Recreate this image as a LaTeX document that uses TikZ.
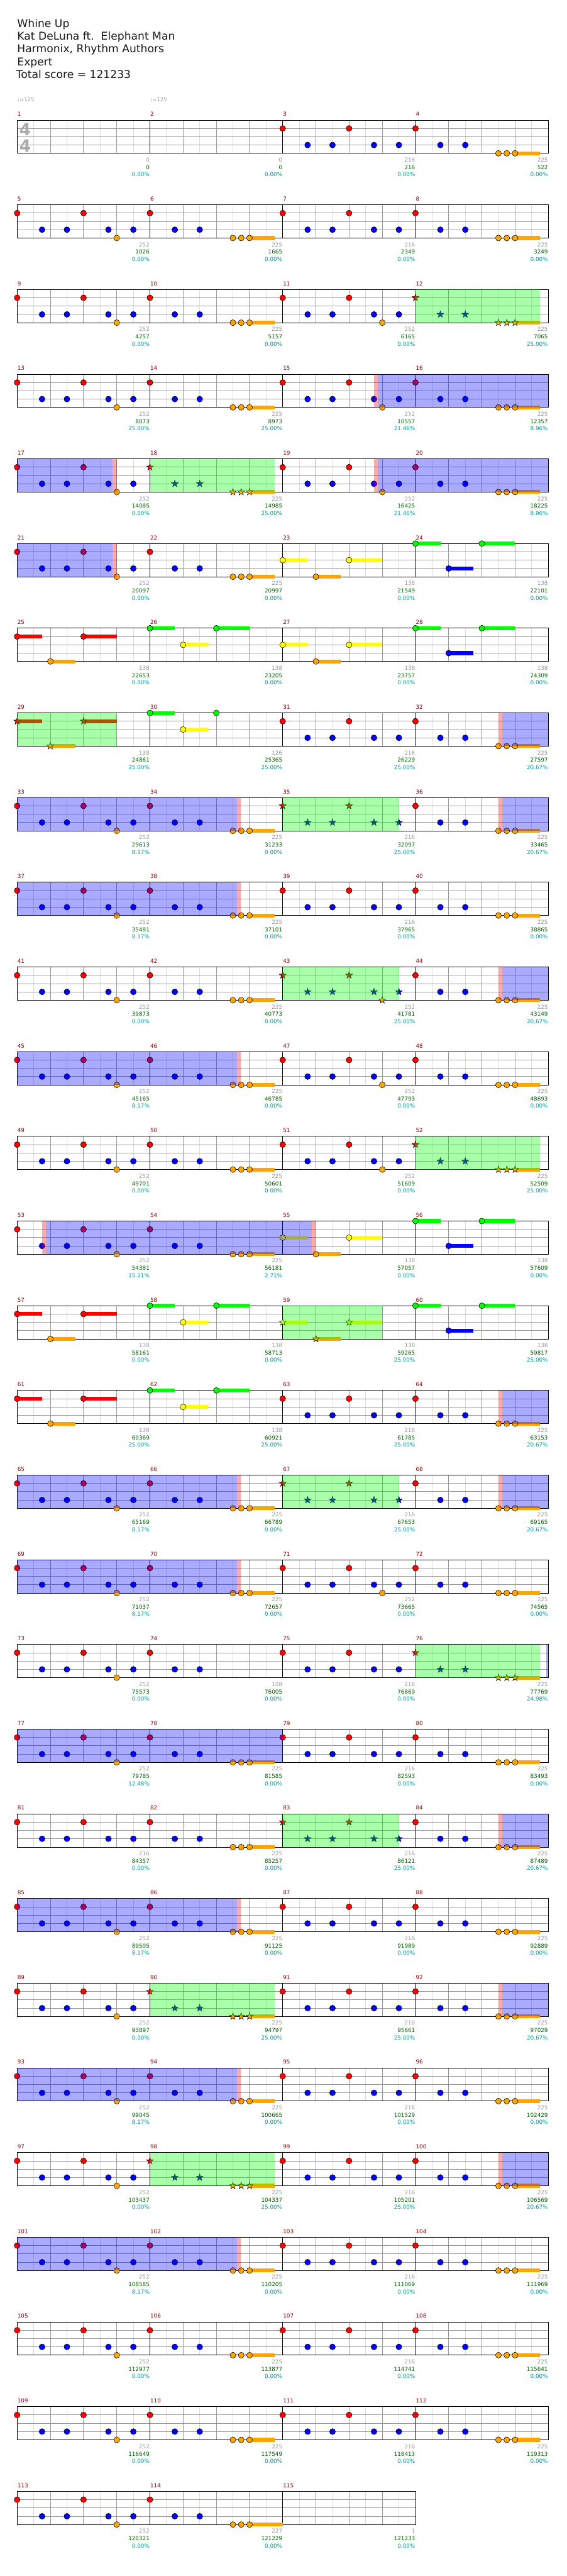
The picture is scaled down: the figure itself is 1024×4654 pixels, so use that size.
\documentclass[tikz,border=0pt]{standalone}
\usepackage{fontspec}
\setmainfont{DejaVu Sans}
\usepackage{xcolor}
\usepackage{tikz}

\pgfdeclarelayer{over}
\pgfsetlayers{main,over}

\definecolor{fretred}{RGB}{255,0,0}
\definecolor{fretgreen}{RGB}{0,255,0}
\definecolor{fretyellow}{RGB}{255,255,0}
\definecolor{fretblue}{RGB}{0,0,255}
\definecolor{fretorange}{RGB}{255,165,0}
\definecolor{barred}{RGB}{139,0,0}
\definecolor{ptgray}{RGB}{153,153,153}
\definecolor{ptgreen}{RGB}{0,100,0}
\definecolor{ptteal}{RGB}{0,153,153}
\definecolor{gridbeat}{RGB}{153,153,153}
\definecolor{grideighth}{RGB}{221,221,221}
\definecolor{sigGray}{RGB}{170,170,170}

\tikzset{
  eighthline/.style={draw=grideighth, line width=1pt},
  beatline/.style={draw=gridbeat, line width=1pt},
  barline/.style={draw=black, line width=1pt},
  notedot/.style={draw=black, line width=0.6pt},
  headline/.style={anchor=base west, inner sep=0pt, text=black!90, font=\fontsize{19.5}{23}\selectfont},
  tempomark/.style={anchor=base west, inner sep=0pt, text=ptgray, font=\fontsize{9.5}{11}\selectfont},
  timesig/.style={anchor=base west, inner sep=0pt, text=sigGray, font=\fontsize{30}{30}\selectfont\bfseries},
  barnum/.style={anchor=base west, inner sep=0pt, text=barred, font=\fontsize{10}{12}\selectfont},
  ptsgray/.style={anchor=base east, inner sep=0pt, text=ptgray, font=\fontsize{10}{12}\selectfont},
  ptsgreen/.style={anchor=base east, inner sep=0pt, text=ptgreen, font=\fontsize{10}{12}\selectfont},
  ptsteal/.style={anchor=base east, inner sep=0pt, text=ptteal, font=\fontsize{10}{12}\selectfont}
}

% lanes: 0 green, 1 red, 2 yellow, 3 blue, 4 orange; positions in 16ths
\newcommand{\chnote}[3]{\draw[notedot, fill=#1] ({15*(#3)},{15*(#2)}) circle (5.3pt);}
\newcommand{\chstar}[3]{\draw[notedot, fill=#1, shift={({15*(#3)},{15*(#2)})}]
  (90:6.5pt) -- (126:2.6pt) -- (162:6.5pt) -- (198:2.6pt) -- (234:6.5pt) -- (270:2.6pt)
  -- (306:6.5pt) -- (342:2.6pt) -- (18:6.5pt) -- (54:2.6pt) -- cycle;}
\newcommand{\chsus}[4]{\fill[#1] ({15*(#3)},{15*(#2)-3.5}) rectangle ({15*(#4)},{15*(#2)+3.5});}
\newcommand{\chshade}[3]{\begin{pgfonlayer}{over}\fill[#1, fill opacity=0.333] ({15*(#2)},0) rectangle ({15*(#3)},60);\end{pgfonlayer}}

% overdrive / star power shading
\newcommand{\odon}[1]{\chshade{fretred}{#1}{#1+0.47}\chshade{fretblue}{#1+0.47}{16}}
\newcommand{\odoff}[1]{\chshade{fretblue}{0}{#1}\chshade{fretred}{#1}{#1+0.5}}
\newcommand{\odfull}{\chshade{fretblue}{0}{16}}

% bar patterns
\newcommand{\patAn}{\chnote{fretred}{1}{0}\chnote{fretred}{1}{8}\chnote{fretblue}{3}{3}\chnote{fretblue}{3}{6}\chnote{fretblue}{3}{11}\chnote{fretblue}{3}{14}}
\newcommand{\patA}{\patAn\chnote{fretorange}{4}{12}}
\newcommand{\patB}{\chsus{fretorange}{4}{12}{15}\chnote{fretred}{1}{0}\chnote{fretblue}{3}{3}\chnote{fretblue}{3}{6}\chnote{fretorange}{4}{10}\chnote{fretorange}{4}{11}\chnote{fretorange}{4}{12}}
\newcommand{\patAns}{\chstar{fretred}{1}{0}\chstar{fretred}{1}{8}\chstar{fretblue}{3}{3}\chstar{fretblue}{3}{6}\chstar{fretblue}{3}{11}\chstar{fretblue}{3}{14}\chshade{fretgreen}{0}{14}}
\newcommand{\patAs}{\patAns\chstar{fretorange}{4}{12}}
\newcommand{\patBs}{\chsus{fretorange}{4}{12}{15}\chstar{fretred}{1}{0}\chstar{fretblue}{3}{3}\chstar{fretblue}{3}{6}\chstar{fretorange}{4}{10}\chstar{fretorange}{4}{11}\chstar{fretorange}{4}{12}\chshade{fretgreen}{0}{15}}
\newcommand{\patL}[4]{\chsus{#2}{#1}{0}{3}\chsus{#2}{#1}{8}{12}\chsus{#4}{#3}{4}{7}\chnote{#2}{#1}{0}\chnote{#2}{#1}{8}\chnote{#4}{#3}{4}}
\newcommand{\patLs}[4]{\chsus{#2}{#1}{0}{3}\chsus{#2}{#1}{8}{12}\chsus{#4}{#3}{4}{7}\chstar{#2}{#1}{0}\chstar{#2}{#1}{8}\chstar{#4}{#3}{4}\chshade{fretgreen}{0}{12}}

% staff of #1 bars
\newcommand{\chstaff}[1]{%
  \foreach \k in {1,...,#1} {
    \foreach \e in {30,90,150,210} \draw[eighthline] ({240*(\k-1)+\e},0) -- ++(0,60);
    \foreach \b in {60,120,180} \draw[beatline] ({240*(\k-1)+\b},0) -- ++(0,60);
  }
  \foreach \l in {15,30,45} \draw[beatline] (0,\l) -- ({240*#1},\l);
  \foreach \k in {1,...,#1} \draw[barline] ({240*\k},0) -- ++(0,60);
  \draw[barline] (0,0) rectangle ({240*#1},60);
}

% one bar: column, number, bar points, total, percent, notes
\newcommand{\chbar}[6]{%
  \begin{scope}[shift={({240*#1},0)}]
    #6
    \node[barnum] (bar#2) at (0.5,-7) {#2};
    \node[ptsgray] (gain#2) at (239.5,75.5) {#3};
    \node[ptsgreen] (sum#2) at (239.5,89) {#4};
    \node[ptsteal] (pct#2) at (239.5,102) {#5\%};
  \end{scope}}

\begin{document}
\begin{tikzpicture}[x=1pt, y=-1pt]
  \useasboundingbox (0,0) rectangle (1024,4654);
  \fill[white] (0,0) rectangle (1024,4654);

  % ---------------- HEADER ----------------
  \node[headline] (song) at (31,49.3) {Whine Up};
  \node[headline] (artist) at (31,72.3) {Kat DeLuna ft.\ \ Elephant Man};
  \node[headline] (authors) at (31,95.3) {Harmonix, Rhythm Authors};
  \node[headline] (level) at (31,118.3) {Expert};
  \node[headline] (score) at (29,141.3) {Total score = 121233};
  \node[tempomark] (tempo1) at (31,184) {♩=125};
  \node[tempomark] (tempo2) at (271,184) {♩=125};

  % ---------------- BARS 1-4 ----------------
  \begin{scope}[shift={(31,217)}]
    \chstaff{4}
    \node[timesig] (sigtop) at (4,28) {4};
    \node[timesig] (sigbot) at (4,57) {4};
    \chbar{0}{1}{0}{0}{0.00}{}
    \chbar{1}{2}{0}{0}{0.00}{}
    \chbar{2}{3}{216}{216}{0.00}{\patAn}
    \chbar{3}{4}{225}{522}{0.00}{\patB}
  \end{scope}
  % ---------------- BARS 5-8 ----------------
  \begin{scope}[shift={(31,370)}]
    \chstaff{4}
    \chbar{0}{5}{252}{1026}{0.00}{\patA}
    \chbar{1}{6}{225}{1665}{0.00}{\patB}
    \chbar{2}{7}{216}{2349}{0.00}{\patAn}
    \chbar{3}{8}{225}{3249}{0.00}{\patB}
  \end{scope}
  % ---------------- BARS 9-12 ----------------
  \begin{scope}[shift={(31,523)}]
    \chstaff{4}
    \chbar{0}{9}{252}{4257}{0.00}{\patA}
    \chbar{1}{10}{225}{5157}{0.00}{\patB}
    \chbar{2}{11}{252}{6165}{0.00}{\patA}
    \chbar{3}{12}{225}{7065}{25.00}{\patBs}
  \end{scope}
  % ---------------- BARS 13-16 ----------------
  \begin{scope}[shift={(31,676)}]
    \chstaff{4}
    \chbar{0}{13}{252}{8073}{25.00}{\patA}
    \chbar{1}{14}{225}{8973}{25.00}{\patB}
    \chbar{2}{15}{252}{10557}{21.46}{\patA\odon{11}}
    \chbar{3}{16}{225}{12357}{8.96}{\patB\odfull}
  \end{scope}
  % ---------------- BARS 17-20 ----------------
  \begin{scope}[shift={(31,829)}]
    \chstaff{4}
    \chbar{0}{17}{252}{14085}{0.00}{\patA\odoff{11.5}}
    \chbar{1}{18}{225}{14985}{25.00}{\patBs}
    \chbar{2}{19}{252}{16425}{21.46}{\patA\odon{11}}
    \chbar{3}{20}{225}{18225}{8.96}{\patB\odfull}
  \end{scope}
  % ---------------- BARS 21-24 ----------------
  \begin{scope}[shift={(31,982)}]
    \chstaff{4}
    \chbar{0}{21}{252}{20097}{0.00}{\patA\odoff{11.5}}
    \chbar{1}{22}{225}{20997}{0.00}{\patB}
    \chbar{2}{23}{138}{21549}{0.00}{\patL{2}{fretyellow}{4}{fretorange}}
    \chbar{3}{24}{138}{22101}{0.00}{\patL{0}{fretgreen}{3}{fretblue}}
  \end{scope}
  % ---------------- BARS 25-28 ----------------
  \begin{scope}[shift={(31,1135)}]
    \chstaff{4}
    \chbar{0}{25}{138}{22653}{0.00}{\patL{1}{fretred}{4}{fretorange}}
    \chbar{1}{26}{138}{23205}{0.00}{\patL{0}{fretgreen}{2}{fretyellow}}
    \chbar{2}{27}{138}{23757}{0.00}{\patL{2}{fretyellow}{4}{fretorange}}
    \chbar{3}{28}{138}{24309}{0.00}{\patL{0}{fretgreen}{3}{fretblue}}
  \end{scope}
  % ---------------- BARS 29-32 ----------------
  \begin{scope}[shift={(31,1288)}]
    \chstaff{4}
    \chbar{0}{29}{138}{24861}{25.00}{\patLs{1}{fretred}{4}{fretorange}}
    \chbar{1}{30}{126}{25365}{25.00}{\chsus{fretgreen}{0}{0}{3}\chsus{fretyellow}{2}{4}{7}%
      \chnote{fretgreen}{0}{0}\chnote{fretgreen}{0}{8}\chnote{fretyellow}{2}{4}}
    \chbar{2}{31}{216}{26229}{25.00}{\patAn}
    \chbar{3}{32}{225}{27597}{20.67}{\patB\odon{10}}
  \end{scope}
  % ---------------- BARS 33-36 ----------------
  \begin{scope}[shift={(31,1441)}]
    \chstaff{4}
    \chbar{0}{33}{252}{29613}{8.17}{\patA\odfull}
    \chbar{1}{34}{225}{31233}{0.00}{\patB\odoff{10.47}}
    \chbar{2}{35}{216}{32097}{25.00}{\patAns}
    \chbar{3}{36}{225}{33465}{20.67}{\patB\odon{10}}
  \end{scope}
  % ---------------- BARS 37-40 ----------------
  \begin{scope}[shift={(31,1594)}]
    \chstaff{4}
    \chbar{0}{37}{252}{35481}{8.17}{\patA\odfull}
    \chbar{1}{38}{225}{37101}{0.00}{\patB\odoff{10.47}}
    \chbar{2}{39}{216}{37965}{0.00}{\patAn}
    \chbar{3}{40}{225}{38865}{0.00}{\patB}
  \end{scope}
  % ---------------- BARS 41-44 ----------------
  \begin{scope}[shift={(31,1747)}]
    \chstaff{4}
    \chbar{0}{41}{252}{39873}{0.00}{\patA}
    \chbar{1}{42}{225}{40773}{0.00}{\patB}
    \chbar{2}{43}{252}{41781}{25.00}{\patAs}
    \chbar{3}{44}{225}{43149}{20.67}{\patB\odon{10}}
  \end{scope}
  % ---------------- BARS 45-48 ----------------
  \begin{scope}[shift={(31,1900)}]
    \chstaff{4}
    \chbar{0}{45}{252}{45165}{8.17}{\patA\odfull}
    \chbar{1}{46}{225}{46785}{0.00}{\patB\odoff{10.47}}
    \chbar{2}{47}{252}{47793}{0.00}{\patA}
    \chbar{3}{48}{225}{48693}{0.00}{\patB}
  \end{scope}
  % ---------------- BARS 49-52 ----------------
  \begin{scope}[shift={(31,2053)}]
    \chstaff{4}
    \chbar{0}{49}{252}{49701}{0.00}{\patA}
    \chbar{1}{50}{225}{50601}{0.00}{\patB}
    \chbar{2}{51}{252}{51609}{0.00}{\patA}
    \chbar{3}{52}{225}{52509}{25.00}{\patBs}
  \end{scope}
  % ---------------- BARS 53-56 ----------------
  \begin{scope}[shift={(31,2206)}]
    \chstaff{4}
    \chbar{0}{53}{252}{54381}{15.21}{\patA\odon{3}}
    \chbar{1}{54}{225}{56181}{2.71}{\patB\odfull}
    \chbar{2}{55}{138}{57057}{0.00}{\patL{2}{fretyellow}{4}{fretorange}\odoff{3.47}}
    \chbar{3}{56}{138}{57609}{0.00}{\patL{0}{fretgreen}{3}{fretblue}}
  \end{scope}
  % ---------------- BARS 57-60 ----------------
  \begin{scope}[shift={(31,2359)}]
    \chstaff{4}
    \chbar{0}{57}{138}{58161}{0.00}{\patL{1}{fretred}{4}{fretorange}}
    \chbar{1}{58}{138}{58713}{0.00}{\patL{0}{fretgreen}{2}{fretyellow}}
    \chbar{2}{59}{138}{59265}{25.00}{\patLs{2}{fretyellow}{4}{fretorange}}
    \chbar{3}{60}{138}{59817}{25.00}{\patL{0}{fretgreen}{3}{fretblue}}
  \end{scope}
  % ---------------- BARS 61-64 ----------------
  \begin{scope}[shift={(31,2512)}]
    \chstaff{4}
    \chbar{0}{61}{138}{60369}{25.00}{\patL{1}{fretred}{4}{fretorange}}
    \chbar{1}{62}{138}{60921}{25.00}{\patL{0}{fretgreen}{2}{fretyellow}}
    \chbar{2}{63}{216}{61785}{25.00}{\patAn}
    \chbar{3}{64}{225}{63153}{20.67}{\patB\odon{10}}
  \end{scope}
  % ---------------- BARS 65-68 ----------------
  \begin{scope}[shift={(31,2665)}]
    \chstaff{4}
    \chbar{0}{65}{252}{65169}{8.17}{\patA\odfull}
    \chbar{1}{66}{225}{66789}{0.00}{\patB\odoff{10.47}}
    \chbar{2}{67}{216}{67653}{25.00}{\patAns}
    \chbar{3}{68}{225}{69165}{20.67}{\patB\odon{10}}
  \end{scope}
  % ---------------- BARS 69-72 ----------------
  \begin{scope}[shift={(31,2818)}]
    \chstaff{4}
    \chbar{0}{69}{252}{71037}{8.17}{\patA\odfull}
    \chbar{1}{70}{225}{72657}{0.00}{\patB\odoff{10.47}}
    \chbar{2}{71}{252}{73665}{0.00}{\patA}
    \chbar{3}{72}{225}{74565}{0.00}{\patB}
  \end{scope}
  % ---------------- BARS 73-76 ----------------
  \begin{scope}[shift={(31,2971)}]
    \chstaff{4}
    \chbar{0}{73}{252}{75573}{0.00}{\patA}
    \chbar{1}{74}{108}{76005}{0.00}{\chnote{fretred}{1}{0}\chnote{fretblue}{3}{3}\chnote{fretblue}{3}{6}}
    \chbar{2}{75}{216}{76869}{0.00}{\patAn}
    \chbar{3}{76}{225}{77769}{24.98}{\patBs\chshade{fretblue}{15.75}{16}}
  \end{scope}
  % ---------------- BARS 77-80 ----------------
  \begin{scope}[shift={(31,3124)}]
    \chstaff{4}
    \chbar{0}{77}{252}{79785}{12.48}{\patA\odfull}
    \chbar{1}{78}{225}{81585}{0.00}{\patB\odfull}
    \chbar{2}{79}{216}{82593}{0.00}{\patAn}
    \chbar{3}{80}{225}{83493}{0.00}{\patB}
  \end{scope}
  % ---------------- BARS 81-84 ----------------
  \begin{scope}[shift={(31,3277)}]
    \chstaff{4}
    \chbar{0}{81}{216}{84357}{0.00}{\patAn}
    \chbar{1}{82}{225}{85257}{0.00}{\patB}
    \chbar{2}{83}{216}{86121}{25.00}{\patAns}
    \chbar{3}{84}{225}{87489}{20.67}{\patB\odon{10}}
  \end{scope}
  % ---------------- BARS 85-88 ----------------
  \begin{scope}[shift={(31,3430)}]
    \chstaff{4}
    \chbar{0}{85}{252}{89505}{8.17}{\patA\odfull}
    \chbar{1}{86}{225}{91125}{0.00}{\patB\odoff{10.47}}
    \chbar{2}{87}{216}{91989}{0.00}{\patAn}
    \chbar{3}{88}{225}{92889}{0.00}{\patB}
  \end{scope}
  % ---------------- BARS 89-92 ----------------
  \begin{scope}[shift={(31,3583)}]
    \chstaff{4}
    \chbar{0}{89}{252}{93897}{0.00}{\patA}
    \chbar{1}{90}{225}{94797}{25.00}{\patBs}
    \chbar{2}{91}{216}{95661}{25.00}{\patAn}
    \chbar{3}{92}{225}{97029}{20.67}{\patB\odon{10}}
  \end{scope}
  % ---------------- BARS 93-96 ----------------
  \begin{scope}[shift={(31,3736)}]
    \chstaff{4}
    \chbar{0}{93}{252}{99045}{8.17}{\patA\odfull}
    \chbar{1}{94}{225}{100665}{0.00}{\patB\odoff{10.47}}
    \chbar{2}{95}{216}{101529}{0.00}{\patAn}
    \chbar{3}{96}{225}{102429}{0.00}{\patB}
  \end{scope}
  % ---------------- BARS 97-100 ----------------
  \begin{scope}[shift={(31,3889)}]
    \chstaff{4}
    \chbar{0}{97}{252}{103437}{0.00}{\patA}
    \chbar{1}{98}{225}{104337}{25.00}{\patBs}
    \chbar{2}{99}{216}{105201}{25.00}{\patAn}
    \chbar{3}{100}{225}{106569}{20.67}{\patB\odon{10}}
  \end{scope}
  % ---------------- BARS 101-104 ----------------
  \begin{scope}[shift={(31,4042)}]
    \chstaff{4}
    \chbar{0}{101}{252}{108585}{8.17}{\patA\odfull}
    \chbar{1}{102}{225}{110205}{0.00}{\patB\odoff{10.47}}
    \chbar{2}{103}{216}{111069}{0.00}{\patAn}
    \chbar{3}{104}{225}{111969}{0.00}{\patB}
  \end{scope}
  % ---------------- BARS 105-108 ----------------
  \begin{scope}[shift={(31,4195)}]
    \chstaff{4}
    \chbar{0}{105}{252}{112977}{0.00}{\patA}
    \chbar{1}{106}{225}{113877}{0.00}{\patB}
    \chbar{2}{107}{216}{114741}{0.00}{\patAn}
    \chbar{3}{108}{225}{115641}{0.00}{\patB}
  \end{scope}
  % ---------------- BARS 109-112 ----------------
  \begin{scope}[shift={(31,4348)}]
    \chstaff{4}
    \chbar{0}{109}{252}{116649}{0.00}{\patA}
    \chbar{1}{110}{225}{117549}{0.00}{\patB}
    \chbar{2}{111}{216}{118413}{0.00}{\patAn}
    \chbar{3}{112}{225}{119313}{0.00}{\patB}
  \end{scope}
  % ---------------- BARS 113-115 ----------------
  \begin{scope}[shift={(31,4501)}]
    \chstaff{3}
    \chbar{0}{113}{252}{120321}{0.00}{\patA}
    \chbar{1}{114}{227}{121229}{0.00}{\chsus{fretorange}{4}{12}{16}\chnote{fretred}{1}{0}%
      \chnote{fretblue}{3}{3}\chnote{fretblue}{3}{6}\chnote{fretorange}{4}{10}\chnote{fretorange}{4}{11}\chnote{fretorange}{4}{12}}
    \chbar{2}{115}{1}{121233}{0.00}{}
  \end{scope}
\end{tikzpicture}
\end{document}
